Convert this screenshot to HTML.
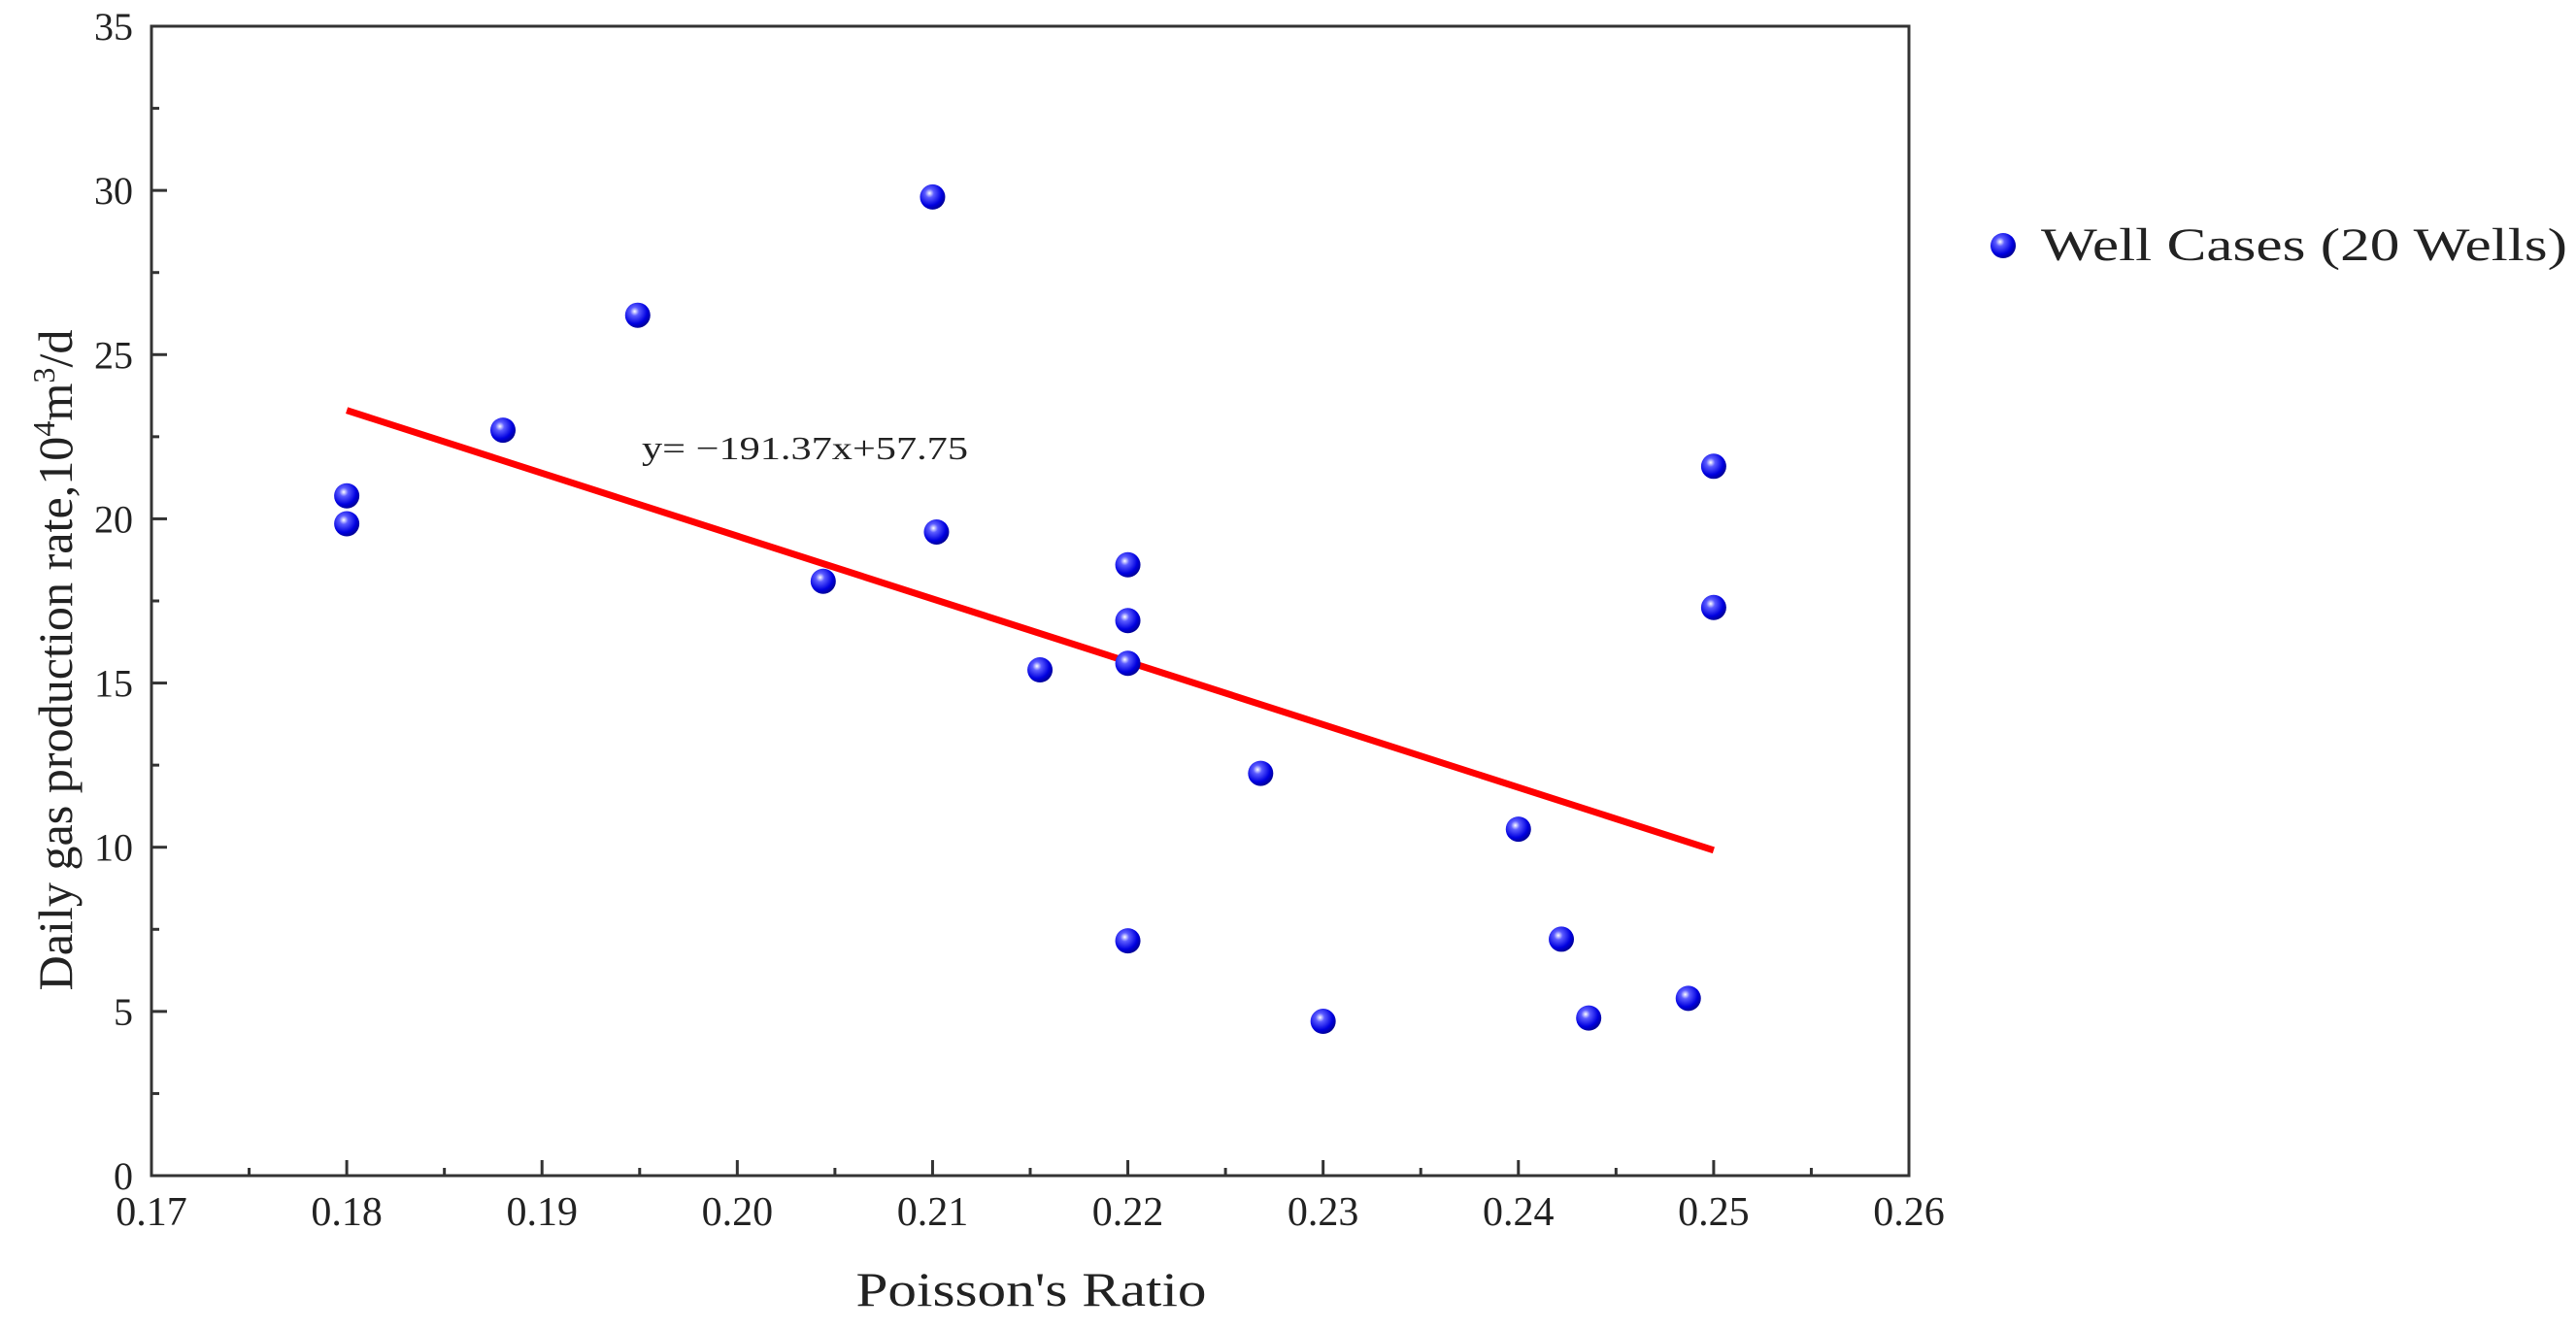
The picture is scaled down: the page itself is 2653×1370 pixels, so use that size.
<!DOCTYPE html>
<html><head><meta charset="utf-8"><style>
html,body{margin:0;padding:0;background:#fff;}
svg{display:block;font-family:"Liberation Serif","DejaVu Serif",serif;}
</style></head><body>
<svg id="chart" width="2653" height="1370" viewBox="0 0 2653 1370" xmlns="http://www.w3.org/2000/svg">
<defs>
<radialGradient id="ball" cx="0.38" cy="0.35" r="0.7">
<stop offset="0" stop-color="#ffffff"/>
<stop offset="0.25" stop-color="#5b5bff"/>
<stop offset="0.7" stop-color="#0000e0"/>
<stop offset="1" stop-color="#00008a"/>
</radialGradient>
</defs>
<g id="plot"></g>
</svg>
<script>
const xVals=[0.180,0.180,0.188,0.1949,0.2044,0.210,0.2102,0.2155,0.220,0.220,0.220,0.220,0.2268,0.230,0.240,0.2422,0.2436,0.2487,0.250,0.250];
const yVals=[20.7,19.85,22.7,26.2,18.1,29.8,19.6,15.4,18.6,16.9,15.6,7.15,12.25,4.7,10.55,7.2,4.8,5.4,21.6,17.3];
const xTicks=[0.17,0.18,0.19,0.20,0.21,0.22,0.23,0.24,0.25,0.26];
const xTickLabels=["0.17","0.18","0.19","0.20","0.21","0.22","0.23","0.24","0.25","0.26"];
const yTicks=[0,5,10,15,20,25,30,35];
const yTickLabels=["0","5","10","15","20","25","30","35"];
const fitSlope=-191.37;
const fitIntercept=57.75;
const fitRange=[0.18,0.25];

const L=156,R=1966,T=27,B=1211;
const xMin=0.17,xMax=0.26,yMin=0,yMax=35;
function sx(v){return L+(v-xMin)/(xMax-xMin)*(R-L);}
function sy(v){return B-(v-yMin)/(yMax-yMin)*(B-T);}
const NS="http://www.w3.org/2000/svg";
const g=document.getElementById('plot');
function mk(tag,attrs,parent){const e=document.createElementNS(NS,tag);for(const k in attrs)e.setAttribute(k,attrs[k]);(parent||g).appendChild(e);return e;}

// frame
const frame=mk('rect',{x:L,y:T,width:R-L,height:B-T,fill:'none',stroke:'#333',"stroke-width":3});



// x ticks
xTicks.forEach((t,i)=>{
  const x=sx(t);
  const tk=mk('line',{x1:x,x2:x,y1:B,y2:B-16,stroke:'#333',"stroke-width":3});
  
  
  const lb=mk('text',{x:x,y:1262,"text-anchor":"middle","font-size":42,fill:'#222'});
  lb.textContent=xTickLabels[i];
  
  
  if(i<xTicks.length-1){
    const xm=sx(t+0.005);
    const mt=mk('line',{x1:xm,x2:xm,y1:B,y2:B-8,stroke:'#333',"stroke-width":3});
    
    
  }
});
// y ticks
yTicks.forEach((t,i)=>{
  const y=sy(t);
  const tk=mk('line',{x1:L,x2:L+16,y1:y,y2:y,stroke:'#333',"stroke-width":3});
  
  
  const lb=mk('text',{x:137,y:y+14,"text-anchor":"end","font-size":40,fill:'#222'});
  lb.textContent=yTickLabels[i];
  
  
  if(i<yTicks.length-1){
    const ym=sy(t+2.5);
    const mt=mk('line',{x1:L,x2:L+8,y1:ym,y2:ym,stroke:'#333',"stroke-width":3});
    
    
  }
});

// fit line
const fl=mk('line',{x1:sx(fitRange[0]),y1:sy(fitSlope*fitRange[0]+fitIntercept),x2:sx(fitRange[1]),y2:sy(fitSlope*fitRange[1]+fitIntercept),stroke:'#ff0000',"stroke-width":7});



// points
xVals.forEach((xv,i)=>{
  const c=mk('circle',{cx:sx(xv),cy:sy(yVals[i]),r:13,fill:'url(#ball)'});
  
  
});

// equation
const eq=mk('text',{x:661,y:473,"font-size":34,fill:'#222',textLength:336,lengthAdjust:'spacingAndGlyphs'});
eq.textContent='y= \u2212191.37x+57.75';



// axis titles
const xt=mk('text',{x:1062,y:1345,"text-anchor":"middle","font-size":50,fill:'#222',textLength:361,lengthAdjust:'spacingAndGlyphs'});
xt.textContent="Poisson's Ratio";



const yt=mk('text',{x:0,y:0,"text-anchor":"middle","font-size":50,fill:'#222',transform:'translate(74,680) rotate(-90)',textLength:681,lengthAdjust:'spacingAndGlyphs'});


yt.appendChild(document.createTextNode('Daily gas production rate,10'));
const s1=mk('tspan',{dy:-18,"font-size":32},yt);s1.textContent='4';
const s2=mk('tspan',{dy:18},yt);s2.textContent='m';
const s3=mk('tspan',{dy:-18,"font-size":32},yt);s3.textContent='3';
const s4=mk('tspan',{dy:18},yt);s4.textContent='/d';

// legend
const lg=mk('g',{});


mk('circle',{cx:2063,cy:253,r:13,fill:'url(#ball)'},lg);
const lt=mk('text',{x:2102,y:268,"font-size":48,fill:'#222',textLength:542,lengthAdjust:'spacingAndGlyphs'},lg);
lt.textContent='Well Cases (20 Wells)';
</script>
</body></html>
